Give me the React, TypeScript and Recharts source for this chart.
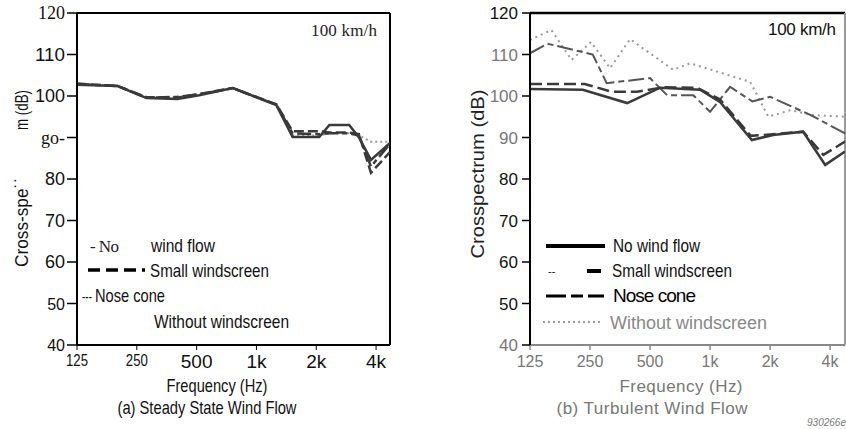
import React from 'react';
import { LineChart, Line, XAxis, YAxis, ReferenceLine } from 'recharts';

// (a) steady state wind flow
const steadyFreq = [125, 200, 280, 400, 515, 760, 1260, 1520, 2070, 2330, 2930, 3280, 3770, 4700];
const steadyNoWind = [102.7, 102.4, 99.5, 99.3, 100.2, 101.9, 97.8, 90.1, 90.1, 93.0, 93.0, 90.0, 84.6, 88.7];
const steadySmall = [103.0, 102.4, 99.7, 99.6, 100.5, 101.9, 98.0, 91.5, 91.5, 91.2, 91.2, 90.8, 81.5, 86.5];
const steadyNose = [102.9, 102.4, 99.6, 99.8, 100.4, 101.9, 97.9, 91.0, 90.8, 91.0, 91.0, 90.5, 83.0, 88.5];
const steadyWithout = [103.0, 102.4, 99.5, 99.4, 100.3, 101.9, 97.8, 90.5, 90.5, 91.0, 91.0, 90.5, 89.0, 89.0];

// (b) turbulent wind flow
const turbNoWindFreq = [125, 230, 384, 562, 891, 1120, 1620, 2070, 2930, 3780, 4750];
const turbNoWind = [101.7, 101.5, 98.3, 102.0, 101.5, 98.6, 89.4, 90.6, 91.4, 83.4, 86.6];
const turbSmallFreq = [125, 235, 322, 430, 580, 860, 1120, 1600, 2070, 2930, 3700, 4750];
const turbSmall = [102.9, 102.9, 101.0, 101.0, 102.1, 102.0, 99.2, 90.4, 90.8, 91.4, 85.8, 89.0];
const turbNoseFreq = [125, 153, 258, 303, 500, 609, 824, 1000, 1260, 1630, 2000, 3200, 4750];
const turbNose = [110.3, 112.6, 110.0, 103.1, 104.3, 100.2, 100.2, 96.2, 102.2, 98.7, 99.8, 95.4, 91.0];
const turbWithoutFreq = [125, 160, 202, 253, 315, 397, 654, 794, 1590, 1960, 2530, 3290, 4750];
const turbWithout = [113.5, 115.9, 108.7, 113.0, 106.7, 113.7, 106.3, 107.9, 103.4, 95.0, 96.6, 95.4, 95.0];

const freqTicks = [125, 250, 500, 1000, 2000, 4000];
const freqTickText = ['125', '250', '500', '1k', '2k', '4k'];
const dbTicks = [40, 50, 60, 70, 80, 90, 100, 110, 120];
const leftDbText = ['40', '50', '60', '70', '80', 'go-', '100', '110', '120'];
const rightDbText = ['40', '50', '60', '70', '80', '90', '100', '110', '120'];

const pts = (f: number[], v: number[]) => f.map((x, i) => ({ f: x, v: v[i] }));

const SANS = '"Liberation Sans", Arial, sans-serif';
const SERIF = '"Liberation Serif", "Times New Roman", serif';
const INK = '#3a3a3a';

// squeezed text to imitate the condensed typeface of the scan
const Narrow = ({ x, y, w, size = 19, fill = '#111', anchor = 'start', children }: any) => (
  <text x={x} y={y} fontFamily={SANS} fontSize={size} fill={fill} textAnchor={anchor}
    textLength={w} lengthAdjust="spacingAndGlyphs">
    {children}
  </text>
);

const LeftYTick = (p: any) => {
  const i = dbTicks.indexOf(p.payload.value);
  const t = leftDbText[i];
  let fam = SANS, size = 18;
  if (t === '120' || t === 'go-') fam = SERIF;
  if (t === '50' || t === '40') size = 16;
  return (
    <text x={p.x} y={p.y} dy={6} textAnchor="end" fontFamily={fam} fontSize={size} fill="#111"
      textLength={t.length === 3 && fam === SANS ? 30 : undefined} lengthAdjust="spacingAndGlyphs">
      {t}
    </text>
  );
};

const RightYTick = (p: any) => {
  const i = dbTicks.indexOf(p.payload.value);
  const t = rightDbText[i];
  const grey = ['110', '100', '90', '40'].includes(t);
  return (
    <text x={p.x} y={p.y} dy={6} textAnchor="end" fontFamily={SANS} fontSize={17} fill={grey ? '#777' : '#111'}>
      {t}
    </text>
  );
};

const LeftXTick = (p: any) => {
  const i = freqTicks.indexOf(p.payload.value);
  const small = i < 2;
  return (
    <text x={p.x} y={p.y} dy={small ? 13 : 15} textAnchor="middle" fontFamily={SANS}
      fontSize={small ? 17 : 19} fill="#111" textLength={small ? 22 : undefined} lengthAdjust="spacingAndGlyphs">
      {freqTickText[i]}
    </text>
  );
};

const RightXTick = (p: any) => {
  const i = freqTicks.indexOf(p.payload.value);
  return (
    <text x={p.x} y={p.y} dy={14} textAnchor="middle" fontFamily={SANS} fontSize={16} fill="#777">
      {freqTickText[i]}
    </text>
  );
};

export default function App() {
  return (
    <div style={{ position: 'absolute', left: 0, top: 0, width: 846, height: 429, background: '#fff' }}>
      <div style={{ position: 'absolute', left: 0, top: 0 }}>
        <LineChart width={420} height={429} margin={{ top: 13, right: 30, bottom: 0, left: 0 }}>
          <XAxis dataKey="f" type="number" scale="log" domain={[125, 4700]} ticks={freqTicks}
            allowDataOverflow height={84} tickSize={5} tickMargin={3} tick={LeftXTick}
            axisLine={{ stroke: '#000', strokeWidth: 2 }} tickLine={{ stroke: '#000' }} />
          <YAxis type="number" domain={[40, 120]} ticks={dbTicks} width={77} tickSize={10} tickMargin={2}
            tick={LeftYTick} axisLine={{ stroke: '#000', strokeWidth: 2 }} tickLine={{ stroke: '#000', strokeWidth: 1.5 }} />
          <ReferenceLine y={120} stroke="#000" strokeWidth={2} />
          <ReferenceLine x={4700} stroke="#000" strokeWidth={2} />
          <Line data={pts(steadyFreq, steadyWithout)} dataKey="v" stroke="#999" strokeWidth={2}
            strokeDasharray="2 3" dot={false} isAnimationActive={false} />
          <Line data={pts(steadyFreq, steadyNose)} dataKey="v" stroke={INK} strokeWidth={2.5}
            strokeDasharray="14 4 5 4" dot={false} isAnimationActive={false} />
          <Line data={pts(steadyFreq, steadySmall)} dataKey="v" stroke={INK} strokeWidth={2.5}
            strokeDasharray="10 4" dot={false} isAnimationActive={false} />
          <Line data={pts(steadyFreq, steadyNoWind)} dataKey="v" stroke={INK} strokeWidth={2.5}
            dot={false} isAnimationActive={false} />
        </LineChart>
      </div>
      <div style={{ position: 'absolute', left: 420, top: 0 }}>
        <LineChart width={426} height={429} margin={{ top: 13, right: 1, bottom: 0, left: 0 }}>
          <XAxis dataKey="f" type="number" scale="log" domain={[125, 4750]} ticks={freqTicks}
            allowDataOverflow height={84} tickSize={5} tickMargin={3} tick={RightXTick}
            axisLine={{ stroke: '#888', strokeWidth: 2 }} tickLine={{ stroke: '#888', strokeWidth: 1.5 }} />
          <YAxis type="number" domain={[40, 120]} ticks={dbTicks} width={110} tickSize={8} tickMargin={4}
            tick={RightYTick} axisLine={{ stroke: '#000', strokeWidth: 2 }} tickLine={{ stroke: '#000', strokeWidth: 1.5 }} />
          <ReferenceLine y={120} stroke="#000" strokeWidth={2.5} />
          <ReferenceLine x={4750} stroke="#999" strokeWidth={2} />
          <Line data={pts(turbWithoutFreq, turbWithout)} dataKey="v" stroke="#999" strokeWidth={2}
            strokeDasharray="2 4" dot={false} isAnimationActive={false} />
          <Line data={pts(turbNoseFreq, turbNose)} dataKey="v" stroke="#555" strokeWidth={2}
            strokeDasharray="16 4 6 4" dot={false} isAnimationActive={false} />
          <Line data={pts(turbSmallFreq, turbSmall)} dataKey="v" stroke={INK} strokeWidth={2.5}
            strokeDasharray="12 5" dot={false} isAnimationActive={false} />
          <Line data={pts(turbNoWindFreq, turbNoWind)} dataKey="v" stroke={INK} strokeWidth={2.5}
            dot={false} isAnimationActive={false} />
        </LineChart>
      </div>
      <svg width={846} height={429} style={{ position: 'absolute', left: 0, top: 0, pointerEvents: 'none' }}>
        {/* left panel texts */}
        <text x={311} y={36} fontFamily={SERIF} fontSize={17} fill="#222" textLength={66}>100 km/h</text>
        <g transform="translate(28,0) rotate(-90)">
          <text x={-110} y={0} textAnchor="middle" fontFamily={SANS} fontSize={19} fill="#111"
            textLength={40} lengthAdjust="spacingAndGlyphs">m (dB)</text>
          <text x={-222} y={0} textAnchor="middle" fontFamily={SANS} fontSize={19} fill="#111"
            textLength={90} lengthAdjust="spacingAndGlyphs">Cross-spe˙˙</text>
        </g>
        <text x={90} y={252} fontFamily={SERIF} fontSize={17} fill="#222" textLength={29}>- No</text>
        <Narrow x={151} y={252} w={64}>wind flow</Narrow>
        <line x1={88} y1={270} x2={145} y2={270} stroke="#000" strokeWidth={3.5} strokeDasharray="12 6" />
        <Narrow x={150} y={277} w={119}>Small windscreen</Narrow>
        <Narrow x={82} y={302} w={10} size={14}>---</Narrow>
        <Narrow x={95} y={302} w={70}>Nose cone</Narrow>
        <Narrow x={154} y={328} w={135}>Without windscreen</Narrow>
        <Narrow x={217} y={392} w={101} anchor="middle">Frequency (Hz)</Narrow>
        <Narrow x={207} y={414} w={179} anchor="middle">(a) Steady State Wind Flow</Narrow>

        {/* right panel texts */}
        <text x={768} y={35} fontFamily={SANS} fontSize={17} fill="#111" textLength={68}>100  km/h</text>
        <text transform="translate(484,174) rotate(-90)" textAnchor="middle" fontFamily={SANS} fontSize={18}
          fill="#222" textLength={169} lengthAdjust="spacingAndGlyphs">Crosspectrum (dB)</text>
        <line x1={546} y1={246} x2={605} y2={246} stroke="#000" strokeWidth={4} />
        <Narrow x={613} y={252} w={87}>No wind flow</Narrow>
        <text x={548} y={275} fontFamily={SANS} fontSize={11} fill="#111">--</text>
        <line x1={587} y1={271} x2={601} y2={271} stroke="#000" strokeWidth={4} />
        <Narrow x={612} y={277} w={120}>Small windscreen</Narrow>
        <line x1={546} y1={296} x2={604} y2={296} stroke="#000" strokeWidth={3} strokeDasharray="20 5 12 5" />
        <text x={613} y={302} fontFamily={SANS} fontSize={19} fill="#000" textLength={83}>Nose cone</text>
        <line x1={543} y1={322} x2={600} y2={322} stroke="#999" strokeWidth={2} strokeDasharray="2 3" />
        <text x={610} y={329} fontFamily={SANS} fontSize={18} fill="#888" textLength={157}>Without windscreen</text>
        <text x={681} y={392} textAnchor="middle" fontFamily={SANS} fontSize={17} fill="#777" textLength={123}>Frequency (Hz)</text>
        <text x={652} y={414} textAnchor="middle" fontFamily={SANS} fontSize={17} fill="#777" textLength={191}>(b) Turbulent Wind Flow</text>
        <text x={846} y={426} textAnchor="end" fontFamily={SANS} fontSize={10} fontStyle="italic" fill="#777">930266e</text>
      </svg>
    </div>
  );
}
